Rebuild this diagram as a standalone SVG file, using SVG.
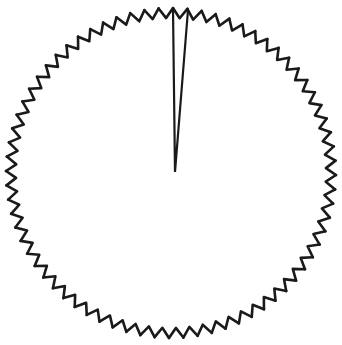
<svg xmlns="http://www.w3.org/2000/svg" width="342" height="345" viewBox="0 0 342 345">
<style>
.z{fill:none;stroke:#1a1a1a;stroke-width:2.6;stroke-linejoin:round;stroke-linecap:round}
.w{fill:none;stroke:#1a1a1a;stroke-width:2.2;stroke-linejoin:miter}
</style>
<defs>
<path id="t" class="z" d="M171,8 L177.76,18.15 L185.38,8.63"/>
<g id="g8">
<use href="#t"/>
<use href="#t" transform="rotate(5 171 173)"/>
<use href="#t" transform="rotate(10 171 173)"/>
<use href="#t" transform="rotate(15 171 173)"/>
<use href="#t" transform="rotate(20 171 173)"/>
<use href="#t" transform="rotate(25 171 173)"/>
<use href="#t" transform="rotate(30 171 173)"/>
<use href="#t" transform="rotate(35 171 173)"/>
</g>
</defs>
<rect width="342" height="345" fill="#fff"/>
<g id="saw" transform="rotate(0.7 171 173)">
<use href="#g8"/>
<use href="#g8" transform="rotate(40 171 173)"/>
<use href="#g8" transform="rotate(80 171 173)"/>
<use href="#g8" transform="rotate(120 171 173)"/>
<use href="#g8" transform="rotate(160 171 173)"/>
<use href="#g8" transform="rotate(200 171 173)"/>
<use href="#g8" transform="rotate(240 171 173)"/>
<use href="#g8" transform="rotate(280 171 173)"/>
<use href="#g8" transform="rotate(320 171 173)"/>
</g>
<g id="wedge">
<polyline class="w" points="173,9 175,172 188,10"/>
</g>
</svg>
